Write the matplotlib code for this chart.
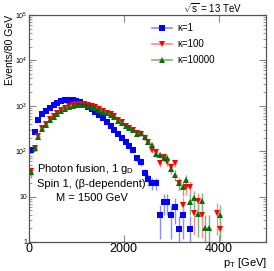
import matplotlib

matplotlib.use("Agg")

import matplotlib.pyplot as plt
import numpy as np
from matplotlib.lines import Line2D
from matplotlib.ticker import FixedLocator, FixedFormatter, LogLocator, NullFormatter

nan = np.nan

# pT bin centres (80 GeV bins)
bin_width = 80
pt = np.arange(40, 4100, bin_width)

kappa1 = [105, 270, 490, 650, 780, 910, 1060, 1180, 1250, 1310,
          1350, 1340, 1290, 1200, 1080, 960, 850, 740, 630, 530,
          440, 360, 295, 240, 192, 158, 130, 105, 70, 59,
          33, 24, 20, 20, 3.9, 7.7, 7.7, 3.9, 5.8, 1.9,
          3.9, nan, 1.9, nan, nan, nan, nan, nan, nan, nan, nan]
kappa100 = [36, 120, 220, 330, 400, 500, 590, 700, 790, 900,
            980, 1030, 1080, 1090, 1080, 1020, 980, 920, 840, 770,
            700, 650, 600, 490, 430, 360, 330, 300, 250, 240,
            200, 160, 105, 98, 54, 73, 59, 45, 54, 20,
            6.5, 16.5, 16.5, 4.3, 8.1, 4.0, nan, nan, nan, 4.3, 1.9]
kappa10000 = [34, 118, 205, 310, 385, 480, 570, 670, 760, 860,
              940, 990, 1030, 1040, 1030, 990, 950, 890, 820, 740,
              680, 640, 580, 470, 410, 350, 320, 290, 240, 247,
              209, 160, 137, 87, 83, 70, 70, 40, 30, 20,
              16, 23, 7.7, 9.2, 4.1, 8.0, 2.0, 2.0, nan, nan, 3.9]

labels = ["κ=1", "κ=100", "κ=10000"]
event_weight = 1.93

plt.rcParams["font.family"] = ["Liberation Sans", "DejaVu Sans"]
plt.rcParams["mathtext.fontset"] = "custom"
plt.rcParams["mathtext.rm"] = "Liberation Sans"
plt.rcParams["mathtext.it"] = "Liberation Sans:italic"

fig = plt.figure(figsize=(2.74, 2.71), dpi=100)
ax = fig.add_axes([29 / 274, 29 / 271, 237 / 274, 227 / 271])

styles = [
    ("s", "#0000ff", "#8a8aff", 3.8),
    ("v", "#ff0000", "#ff8a8a", 4.3),
    ("^", "#0b6e0b", "#7fb27f", 4.3),
]
handles = []
for vals, (mk, col, ecol, ms) in zip([kappa1, kappa100, kappa10000], styles):
    y = np.array(vals, dtype=float)
    err = np.sqrt(event_weight * y)
    lo = np.minimum(err, 0.9999 * y)
    ax.errorbar(pt, y, yerr=[lo, err], xerr=bin_width / 2, fmt=mk, color=col,
                ecolor=ecol, elinewidth=1.0, ms=ms, mew=0, capsize=0)
    handles.append(Line2D([], [], color=ecol, lw=1.2, marker=mk, ms=ms + 0.5,
                          mfc=col, mec=col, mew=0))

ax.set_yscale("log")
ax.set_xlim(0, 5000)
ax.set_ylim(1, 1e5)

ax.xaxis.set_major_locator(FixedLocator([0, 2000, 4000]))
ax.yaxis.set_major_locator(FixedLocator([1, 10, 100, 1e3, 1e4, 1e5]))
ax.yaxis.set_major_formatter(FixedFormatter(
    ["1", "10", "$10^2$", "$10^3$", "$10^4$", "$10^5$"]))
ax.yaxis.set_minor_locator(LogLocator(base=10, subs=np.arange(2, 10), numticks=20))
ax.yaxis.set_minor_formatter(NullFormatter())
ax.tick_params(which="both", direction="in", top=True, right=True, color="#888888")
ax.tick_params(axis="x", which="major", length=5, labelsize=9, pad=0.5)
ax.tick_params(axis="y", which="major", length=5, labelsize=5, pad=1.5)
ax.tick_params(axis="y", which="minor", length=2.5)
for s in ax.spines.values():
    s.set_color("#555555")
    s.set_linewidth(0.9)

fig.text(10 / 274, 1 - 15 / 271, "Events/80 GeV", rotation=90, ha="center", va="top",
         fontsize=7.5)
fig.text(267 / 274, 1 - 270 / 271, "p$_\\mathregular{T}$ [GeV]", ha="right",
         va="bottom", fontsize=8)
fig.text(242 / 274, 1 - 8 / 271, "$\\sqrt{\\mathregular{s}}$ = 13 TeV", ha="right",
         va="center", fontsize=7)

fig.text(37 / 274, 1 - 169 / 271, "Photon fusion, 1 g$_\\mathregular{D}$",
         ha="left", va="center", fontsize=8)
fig.text(37 / 274, 1 - 184 / 271, "Spin 1, (β-dependent)", ha="left", va="center",
         fontsize=8)
fig.text(92 / 274, 1 - 198 / 271, "M = 1500 GeV", ha="center", va="center",
         fontsize=8)

ax.legend(handles, labels, loc="upper left", bbox_to_anchor=(152 / 274, 1 - 23 / 271),
          bbox_transform=fig.transFigure, frameon=False, fontsize=7,
          handlelength=2.1, handletextpad=0.5, labelspacing=0.62, borderpad=0,
          borderaxespad=0)

fig.savefig("out.png", dpi=100)
